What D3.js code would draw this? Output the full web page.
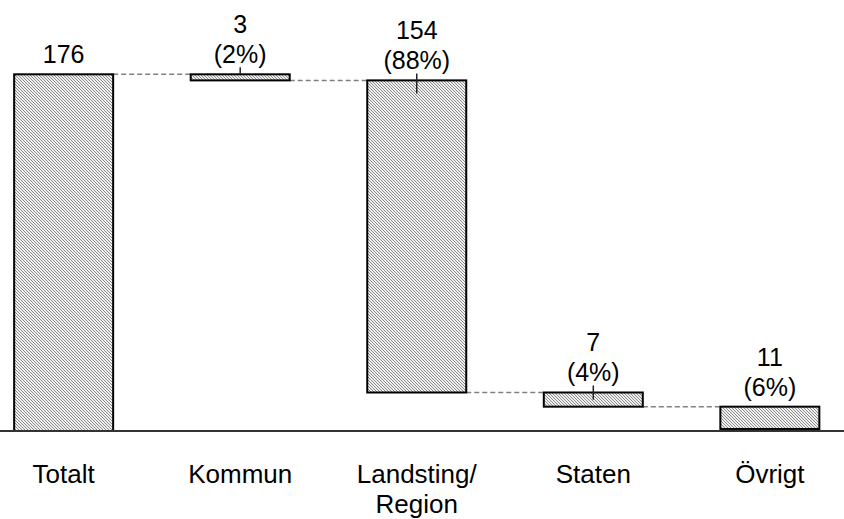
<!DOCTYPE html>
<html>
<head>
<meta charset="utf-8">
<script src="https://cdn.jsdelivr.net/npm/d3@7"></script>
<style>
  html, body { margin: 0; padding: 0; background: #fff; }
  svg { display: block; font-family: "Liberation Sans", Arial, sans-serif; }
</style>
</head>
<body>
<svg id="chart" width="844" height="519"></svg>
<script>
// Categories (a "\n" marks a line break in the axis label)
const categories = ["Totalt", "Kommun", "Landsting/\nRegion", "Staten", "Övrigt"];
// Amounts: the total first, then the parts it breaks down into
const values = [176, 3, 154, 7, 11];
// Share of the total, as printed under each part
const shareLabels = ["", "(2%)", "(88%)", "(4%)", "(6%)"];

const width = 844, height = 519;
const svg = d3.select("#chart");

// Waterfall: the total stands on zero, each part hangs from the running level
const bars = [];
let level = values[0];
categories.forEach((c, i) => {
  if (i === 0) {
    bars.push({ cat: c, value: values[i], y0: 0, y1: values[i], i });
  } else {
    bars.push({ cat: c, value: values[i], y0: level - values[i], y1: level, i });
    level -= values[i];
  }
});

const x = d3.scaleBand()
  .domain(categories)
  .range([-63.4, 896.9])
  .padding(0.4393);

const y = d3.scaleLinear()
  .domain([0, 176])
  .range([431, 74.3]);

// Fine diagonal hatch used for every bar
const defs = svg.append("defs");
const pat = defs.append("pattern")
  .attr("id", "hatch")
  .attr("patternUnits", "userSpaceOnUse")
  .attr("width", 3).attr("height", 3);
pat.append("rect").attr("width", 3).attr("height", 3).attr("fill", "#f0f0f0");
pat.append("path")
  .attr("d", "M-1,-1 L4,4 M-1,2 L1,4 M2,-1 L4,1")
  .attr("stroke", "#8a8a8a")
  .attr("stroke-width", 1);

// Dashed connectors between the end of one bar and the start of the next
const connectors = [];
for (let i = 0; i < bars.length - 1; i++) {
  const cur = bars[i];
  const endLevel = i === 0 ? cur.y1 : cur.y0;
  connectors.push({ x1: x(cur.cat) + x.bandwidth(), x2: x(bars[i + 1].cat), lv: endLevel });
}
svg.append("g").selectAll("line").data(connectors).join("line")
  .attr("x1", d => d.x1).attr("x2", d => d.x2)
  .attr("y1", d => y(d.lv)).attr("y2", d => y(d.lv))
  .attr("stroke", "#808080")
  .attr("stroke-width", 1.5)
  .attr("stroke-dasharray", "5,3");

// Bars
svg.append("g").selectAll("rect").data(bars).join("rect")
  .attr("x", d => x(d.cat))
  .attr("width", x.bandwidth())
  .attr("y", d => y(d.y1))
  .attr("height", d => y(d.y0) - y(d.y1))
  .attr("fill", "url(#hatch)")
  .attr("stroke", "#000")
  .attr("stroke-width", 2);

// Small marker at the top centre of the hanging parts
const markers = bars.filter(d => d.i > 0 && d.i < bars.length - 1);
svg.append("g").selectAll("line").data(markers).join("line")
  .attr("x1", d => x(d.cat) + x.bandwidth() / 2)
  .attr("x2", d => x(d.cat) + x.bandwidth() / 2)
  .attr("y1", d => y(d.y1) - 7)
  .attr("y2", d => {
    const h = y(d.y0) - y(d.y1);
    return y(d.y1) + Math.max(0, Math.min(13, h - 7));
  })
  .attr("stroke", "#222")
  .attr("stroke-width", 1.5);

// Value labels (amount, and share on a second line)
const lab = svg.append("g").selectAll("text").data(bars).join("text")
  .attr("text-anchor", "middle")
  .attr("font-size", 25)
  .attr("fill", "#000")
  .attr("x", d => x(d.cat) + x.bandwidth() / 2)
  .attr("y", d => y(d.y1) - 11);
lab.each(function (d) {
  const t = d3.select(this);
  if (d.i === 0) {
    t.text(d.value);
  } else {
    t.append("tspan").attr("x", x(d.cat) + x.bandwidth() / 2).attr("dy", -30).text(d.value);
    t.append("tspan").attr("x", x(d.cat) + x.bandwidth() / 2).attr("dy", 30).text(shareLabels[d.i]);
  }
});

// Category axis along the zero line
const axis = svg.append("g")
  .attr("transform", `translate(0,${y(0)})`)
  .call(d3.axisBottom(x).tickSize(0).tickPadding(0).tickFormat(""));
axis.select(".domain")
  .attr("d", `M0,0H${width}`)
  .attr("stroke", "#333")
  .attr("stroke-width", 2);
axis.selectAll(".tick").each(function (d) {
  const g = d3.select(this);
  g.select("text").remove();
  const t = g.append("text")
    .attr("text-anchor", "middle")
    .attr("font-size", 26)
    .attr("fill", "#000")
    .attr("y", 52);
  d.split("\n").forEach((line, k) => {
    t.append("tspan").attr("x", 0).attr("dy", k === 0 ? 0 : 30).text(line);
  });
});
</script>
</body>
</html>
